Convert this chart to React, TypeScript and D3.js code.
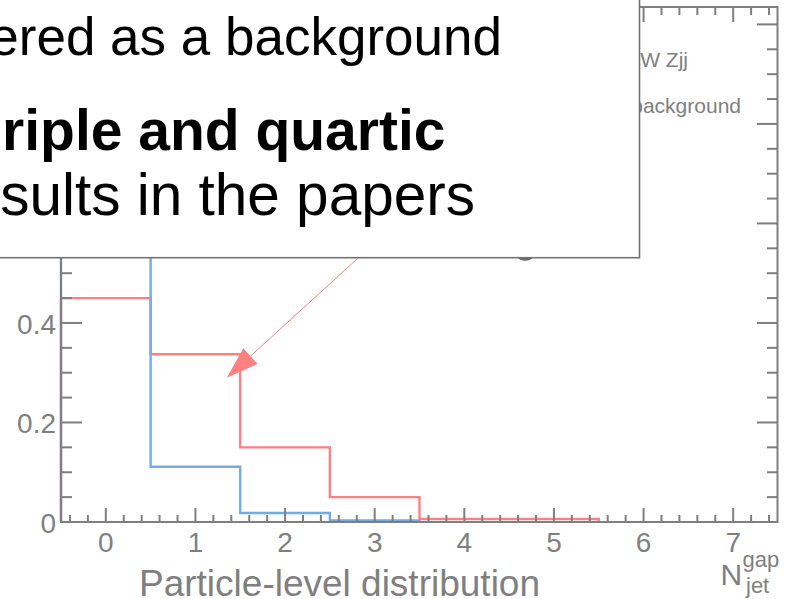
import React from "react";
import * as d3 from "d3";

// Bin centres of the jet-multiplicity histogram (N_jet^gap)
const BIN_CENTERS = [0, 1, 2, 3, 4, 5];
// Normalised distributions
const SIGNAL_VALUES = [0.45, 0.337, 0.15, 0.05, 0.006, 0.006];
const BACKGROUND_VALUES = [0.867, 0.111, 0.018, 0.003];

const X_TICKS = [0, 1, 2, 3, 4, 5, 6, 7];
const Y_TICKS = [0, 0.2, 0.4, 0.6, 0.8, 1];
const Y_LABELED = [0, 0.2, 0.4];
const Y_TICK_LABELS = ["0", "0.2", "0.4"];

const LEGEND_LABELS = ["EW Zjj", "background"];
const BOX_LINES = ["ered as a background", "riple and quartic", "sults in the papers"];

const W = 788;
const H = 599;
const FONT = "'Liberation Sans', Arial, Helvetica, sans-serif";
const AXIS = "#7f7f7f";
const RED = "#ff8080";
const BLUE = "#74abe4";

const x = d3.scaleLinear().domain([-0.5, 7.5]).range([61, 778]);
const y = d3.scaleLinear().domain([0, 1.035]).range([522, 7]);

function stepPath(values: number[]) {
  const pts: [number, number][] = [[-0.5, 0]];
  values.forEach((v, i) => pts.push([BIN_CENTERS[i] - 0.5, v]));
  pts.push([BIN_CENTERS[values.length - 1] + 0.5, 0]);
  const line = d3
    .line<[number, number]>()
    .x((d) => x(d[0]))
    .y((d) => y(d[1]))
    .curve(d3.curveStepAfter);
  return line(pts) || "";
}

export default function App() {
  const xMinor = d3.range(-0.4, 7.5, 0.2).filter((t) => Math.abs(t - Math.round(t)) > 1e-6);
  const yMinor = d3.range(0.05, 1.035, 0.05).filter((t) => Math.abs(t * 5 - Math.round(t * 5)) > 1e-6);
  const [x0, x1] = x.range();
  const [yb, yt] = y.range();

  // Arrow pointing from the note box to the signal histogram
  const tip: [number, number] = [x(1.35), y(0.29)];
  const start: [number, number] = [x(3.3), y(0.61)];
  const dx = start[0] - tip[0];
  const dy = start[1] - tip[1];
  const len = Math.hypot(dx, dy);
  const ux = dx / len;
  const uy = dy / len;
  const headLen = 32;
  const headHalf = 10.6;
  const base: [number, number] = [tip[0] + ux * headLen, tip[1] + uy * headLen];
  const head = [
    tip,
    [base[0] - uy * headHalf, base[1] + ux * headHalf],
    [base[0] + uy * headHalf, base[1] - ux * headHalf],
  ]
    .map((p) => p.join(","))
    .join(" ");

  return (
    <svg
      width={W}
      height={H}
      style={{ position: "absolute", left: 0, top: 0, background: "#fff" }}
      fontFamily={FONT}
    >
      <rect width={W} height={H} fill="#fff" />

      {/* histograms */}
      <path d={stepPath(SIGNAL_VALUES)} fill="none" stroke={RED} strokeWidth={2.4} />
      <path d={stepPath(BACKGROUND_VALUES)} fill="none" stroke={BLUE} strokeWidth={2.4} />

      {/* frame */}
      <rect x={x0} y={yt} width={x1 - x0 - 0.5} height={yb - yt} fill="none" stroke={AXIS} strokeWidth={2} />

      {/* x ticks, bottom and top */}
      {X_TICKS.map((t) => (
        <g key={"xt" + t}>
          <line x1={x(t)} x2={x(t)} y1={yb} y2={yb - 14} stroke={AXIS} strokeWidth={2} />
          <line x1={x(t)} x2={x(t)} y1={yt} y2={yt + 15} stroke={AXIS} strokeWidth={2} />
          <text x={x(t)} y={552} textAnchor="middle" fontSize={28} fill={AXIS}>
            {t}
          </text>
        </g>
      ))}
      {xMinor.map((t) => (
        <g key={"xm" + t.toFixed(1)}>
          <line x1={x(t)} x2={x(t)} y1={yb} y2={yb - 7} stroke={AXIS} strokeWidth={2} />
          <line x1={x(t)} x2={x(t)} y1={yt} y2={yt + 8} stroke={AXIS} strokeWidth={2} />
        </g>
      ))}

      {/* y ticks, left and right */}
      {Y_TICKS.map((t) => (
        <g key={"yt" + t}>
          <line x1={x0} x2={x0 + 21} y1={y(t)} y2={y(t)} stroke={AXIS} strokeWidth={2} />
          <line x1={x1 - 0.5} x2={x1 - 21} y1={y(t)} y2={y(t)} stroke={AXIS} strokeWidth={2} />
        </g>
      ))}
      {Y_LABELED.map((t, i) => (
        <text key={"yl" + t} x={56} y={y(t) + 11} textAnchor="end" fontSize={28} fill={AXIS}>
          {Y_TICK_LABELS[i]}
        </text>
      ))}
      {yMinor.map((t) => (
        <g key={"ym" + t.toFixed(2)}>
          <line x1={x0} x2={x0 + 11} y1={y(t)} y2={y(t)} stroke={AXIS} strokeWidth={2} />
          <line x1={x1 - 0.5} x2={x1 - 11} y1={y(t)} y2={y(t)} stroke={AXIS} strokeWidth={2} />
        </g>
      ))}

      {/* axis titles */}
      <text x={139} y={596} fontSize={37} fill={AXIS}>
        Particle-level distribution
      </text>
      <text x={720.5} y={585} fontSize={30} fill={AXIS}>
        N
      </text>
      <text x={742.5} y={567} fontSize={22} fill={AXIS}>
        gap
      </text>
      <text x={746} y={593} fontSize={22} fill={AXIS}>
        jet
      </text>

      {/* legend */}
      <text x={688} y={67} textAnchor="end" fontSize={21} fill={AXIS}>
        {LEGEND_LABELS[0]}
      </text>
      <text x={741} y={113} textAnchor="end" fontSize={21} fill={AXIS}>
        {LEGEND_LABELS[1]}
      </text>
      <circle cx={x(4.68)} cy={y(0.547)} r={11} fill="#6a6a6a" />

      {/* arrow */}
      <line x1={start[0]} y1={start[1]} x2={base[0]} y2={base[1]} stroke={RED} strokeWidth={1} />
      <polygon points={head} fill={RED} />

      {/* note box */}
      <rect x={-20} y={-20} width={659.5} height={277.7} fill="#fff" stroke="#737373" strokeWidth={1.6} />
      <text x={502} y={55} textAnchor="end" fontSize={53} fill="#000">
        {BOX_LINES[0]}
      </text>
      <text x={445.5} y={150} textAnchor="end" fontSize={57} fontWeight="bold" fill="#000">
        {BOX_LINES[1]}
      </text>
      <text x={475} y={215} textAnchor="end" fontSize={58.5} fill="#000">
        {BOX_LINES[2]}
      </text>
    </svg>
  );
}
